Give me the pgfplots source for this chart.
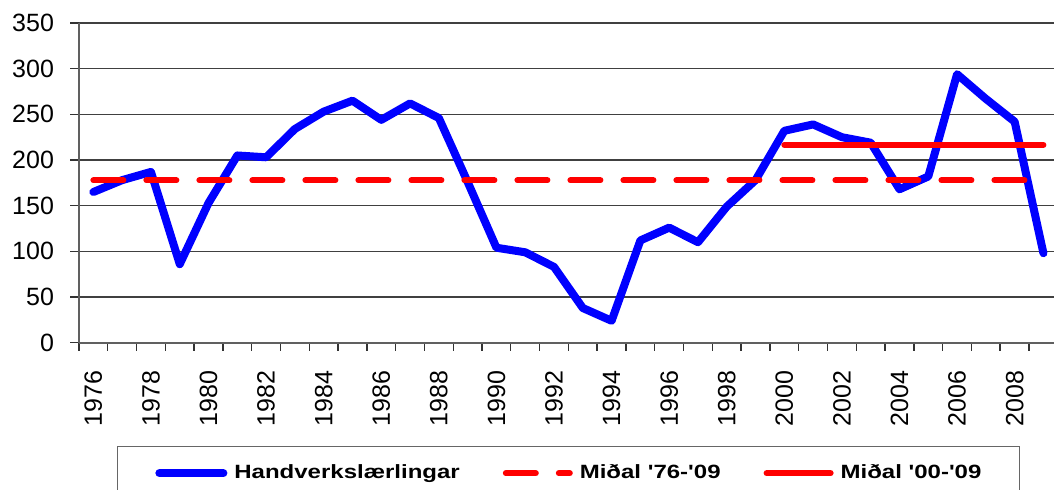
\documentclass[border=0pt]{standalone}
\usepackage{pgfplots}
\pgfplotsset{compat=1.18}
\usepackage{pgfplotstable}
\usepackage{graphicx}
\usepackage{fontspec}
\setmainfont{Liberation Sans}
\definecolor{gridc}{HTML}{404040}
\definecolor{axisc}{HTML}{606060}
\pgfplotstableread{
year val
1976 165
1977 178
1978 187
1979 86
1980 153
1981 205
1982 203
1983 234
1984 253
1985 265
1986 244
1987 262
1988 246
1989 176
1990 104
1991 99
1992 83
1993 38
1994 24
1995 112
1996 126
1997 110
1998 149
1999 178
2000 232
2001 239
2002 225
2003 219
2004 168
2005 182
2006 294
2007 267
2008 242
2009 98
}\lardata
\pgfplotstableread{
year val
1976 177.8
2009 177.8
}\meanall
\pgfplotstableread{
year val
2000 216.6
2009 216.6
}\meanrecent
\begin{document}
\begin{tikzpicture}
\begin{axis}[
  scale only axis, width=489.4pt, height=159.85pt,
  xmin=1975.5, xmax=2009.5, ymin=0, ymax=350,
  clip=false,
  axis x line*=bottom, axis y line*=left,
  axis line style={-, draw=axisc, line width=1pt},
  ytick={0,50,...,350},
  ymajorgrids, major grid style={gridc, line width=0.7pt},
  tick align=outside, major tick length=4.5pt, minor tick length=4pt,
  tick style={black!80, line width=0.7pt},
  xtick={1976,1978,...,2008},
  minor xtick={1975.5,1976.5,...,2009.5},
  major x tick style={draw=none},
  /pgf/number format/1000 sep={},
  /pgf/number format/assume math mode=true,
  ticklabel style={font=\fontsize{12.5}{14}\selectfont},
  xticklabel style={rotate=90, anchor=east},
  xticklabel shift=6pt,
  yticklabel shift=4.5pt,
  legend style={draw=black!60, line width=0.7pt, at={(0.5,-0.323)}, anchor=north,
    legend columns=3, font=\fontsize{12}{14}\selectfont\bfseries,
    inner xsep=19pt, inner ysep=9pt, nodes={inner sep=0pt},
    /tikz/every odd column/.append style={column sep=3.5pt},
    /tikz/every even column/.append style={column sep=21.5pt}},
  legend image code/.code={\draw[#1] (1pt,0pt) -- (33pt,0pt);},
  legend cell align=left,
]
\addplot[blue, line width=4pt, line join=round, line cap=round] table[x=year, y=val] {\lardata};
\addlegendentry{\scalebox{1}[0.8]{Handverkslærlingar}}
\addplot[red, line width=3pt, line cap=round, dash pattern=on 15pt off 11.5pt] table[x=year, y=val] {\meanall};
\addlegendentry{\scalebox{1}[0.8]{Miðal \textquotesingle 76-\textquotesingle 09}}
\addplot[red, line width=3pt, line cap=round] table[x=year, y=val] {\meanrecent};
\addlegendentry{\scalebox{1}[0.8]{Miðal \textquotesingle 00-\textquotesingle 09}}
\coordinate (bbsw) at (rel axis cs:-0.0807,-0.4576);
\coordinate (bbne) at (rel axis cs:0.9961,1.0720);
\end{axis}
\pgfresetboundingbox
\path[use as bounding box] (bbsw) rectangle (bbne);
\end{tikzpicture}
\end{document}
